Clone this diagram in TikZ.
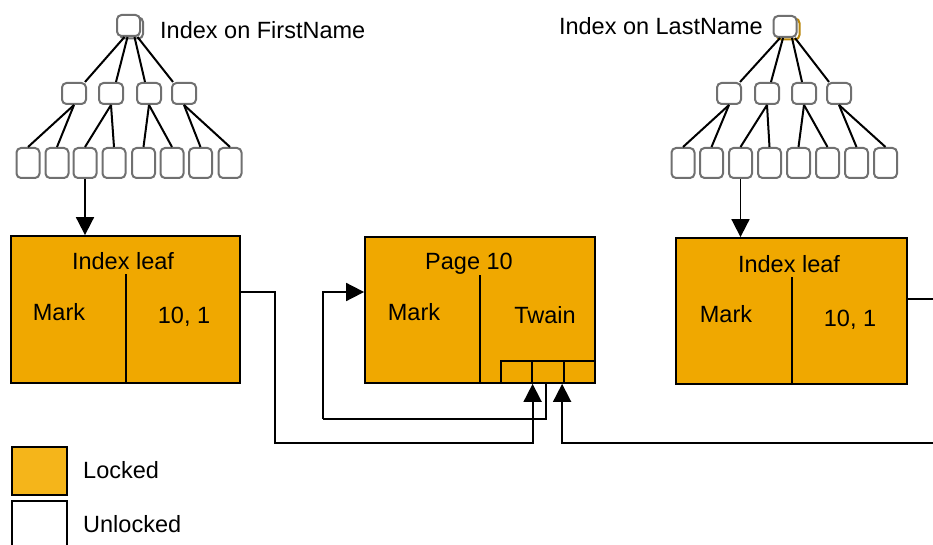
\documentclass[tikz,border=0pt]{standalone}
\usepackage{fontspec}
\setmainfont{Liberation Sans}
\usetikzlibrary{arrows.meta,calc}
\definecolor{lockfill}{HTML}{F0A800}
\definecolor{legfill}{HTML}{F5B51A}
\definecolor{treegray}{HTML}{707070}
\definecolor{shadeorange}{HTML}{B8860B}
\begin{document}
\begin{tikzpicture}[x=1pt,y=-1pt,
  tnode/.style={draw=treegray, line width=2pt, rounded corners=4.5pt, fill=white, inner sep=0pt},
  midnode/.style={tnode, minimum width=24pt, minimum height=21pt},
  botnode/.style={tnode, minimum width=23pt, minimum height=30pt},
  rootnode/.style={tnode, minimum width=23pt, minimum height=21pt},
  tline/.style={line width=2pt},
  pagebox/.style={draw, line width=1.8pt, fill=lockfill, inner sep=0pt},
  lbl/.style={font=\fontsize{23.5}{28}\selectfont, inner sep=0pt},
  conn/.style={line width=1.8pt},
  arr/.style={conn, -{Triangle[width=18pt 0, length=18pt 0]}}
]
\useasboundingbox (0,0) rectangle (933,545);
\clip (0,0) rectangle (933,545);

% ---------- left tree ----------
\node[rootnode] (L-rs) at (131.5,28) {};
\node[rootnode] (L-r) at (128.5,25.5) {};
\foreach \i/\x in {1/74,2/111,3/149,4/184}
  \node[midnode] (L-m\i) at (\x,93.5) {};
\foreach \i/\x in {1/28,2/57,3/85,4/114,5/143.5,6/172,7/200.5,8/230}
  \node[botnode] (L-b\i) at (\x,163) {};
\draw[tline] ([xshift=-4pt]L-r.south) -- ([xshift=11pt]L-m1.north);
\draw[tline] ([xshift=-1pt]L-r.south) -- ([xshift=5pt]L-m2.north);
\draw[tline] ([xshift=6pt]L-r.south) -- ([xshift=-4pt]L-m3.north);
\draw[tline] ([xshift=9pt]L-r.south) -- ([xshift=-11pt]L-m4.north);
\draw[tline] (L-m1.south) -- (L-b1.north);
\draw[tline] (L-m1.south) -- (L-b2.north);
\draw[tline] (L-m2.south) -- (L-b3.north);
\draw[tline] (L-m2.south) -- (L-b4.north);
\draw[tline] (L-m3.south) -- (L-b5.north);
\draw[tline] (L-m3.south) -- (L-b6.north);
\draw[tline] (L-m4.south) -- (L-b7.north);
\draw[tline] (L-m4.south) -- (L-b8.north);
\node[lbl, anchor=base west] (L-title) at (160,39) {Index on FirstName};

% ---------- right tree ----------
\node[rootnode, draw=shadeorange] (R-rs) at (788,29) {};
\node[rootnode] (R-r) at (785,26.5) {};
\foreach \i/\x in {1/729,2/767,3/804,4/839}
  \node[midnode] (R-m\i) at (\x,93.5) {};
\foreach \i/\x in {1/683,2/711.5,3/740.5,4/769.5,5/798.5,6/827.5,7/856.5,8/885.5}
  \node[botnode] (R-b\i) at (\x,163) {};
\draw[tline] ([xshift=-5pt]R-r.south) -- ([xshift=11pt]R-m1.north);
\draw[tline] ([xshift=-2pt]R-r.south) -- ([xshift=4pt]R-m2.north);
\draw[tline] ([xshift=7pt]R-r.south) -- ([xshift=-2pt]R-m3.north);
\draw[tline] ([xshift=10pt]R-r.south) -- ([xshift=-10pt]R-m4.north);
\draw[tline] (R-m1.south) -- (R-b1.north);
\draw[tline] (R-m1.south) -- (R-b2.north);
\draw[tline] (R-m2.south) -- (R-b3.north);
\draw[tline] (R-m2.south) -- (R-b4.north);
\draw[tline] (R-m3.south) -- (R-b5.north);
\draw[tline] (R-m3.south) -- (R-b6.north);
\draw[tline] (R-m4.south) -- (R-b7.north);
\draw[tline] (R-m4.south) -- (R-b8.north);
\node[lbl, anchor=base east] (R-title) at (763,35) {Index on LastName};

% ---------- boxes ----------
\node[pagebox, minimum width=229pt, minimum height=147pt] (leafL) at (125.5,309.5) {};
\node[pagebox, minimum width=230pt, minimum height=146pt] (page) at (480,310) {};
\node[pagebox, minimum width=231pt, minimum height=146pt] (leafR) at (791.5,311) {};

\coordinate (dL) at (126,274);
\coordinate (dP) at (480,275);
\coordinate (dR) at (792,277);
\draw[line width=1.8pt] (dL) -- (dL |- leafL.south);
\draw[line width=1.8pt] (dP) -- (dP |- page.south);
\draw[line width=1.8pt] (dR) -- (dR |- leafR.south);

\node[lbl, anchor=base] (tL1) at (123,269) {Index leaf};
\node[lbl, anchor=base] (tL2) at (59,320) {Mark};
\node[lbl, anchor=base] (tL3) at (184,323) {10, 1};
\node[lbl, anchor=base] (tP1) at (469,269) {Page 10};
\node[lbl, anchor=base] (tP2) at (414,320) {Mark};
\node[lbl, anchor=base] (tP3) at (545,323) {Twain};
\node[lbl, anchor=base] (tR1) at (789,272) {Index leaf};
\node[lbl, anchor=base] (tR2) at (726,322) {Mark};
\node[lbl, anchor=base] (tR3) at (850,326) {10, 1};

\node[pagebox, minimum width=31pt, minimum height=22pt] (c1) at (516.5,372) {};
\node[pagebox, minimum width=32pt, minimum height=22pt] (c2) at (548,372) {};
\node[pagebox, minimum width=31pt, minimum height=22pt] (c3) at (579.5,372) {};

% ---------- arrows ----------
\draw[arr] (L-b3.south) -- (L-b3.south |- leafL.north);
\draw[arr] (R-b3.south) -- (R-b3.south |- leafR.north);

\coordinate (p1) at (275,292);
\coordinate (p2) at (275,443);
\draw[arr] (leafL.east |- p1) -- (p1) -- (p2) -| ([xshift=1.5pt]c2.south west);

\coordinate (q1) at (323,419);
\coordinate (q2) at (323,292);
\draw[conn] ([xshift=-2pt]c2.south) |- (q1);
\draw[arr] (q1) -- (q2) -- (page.west |- q2);

\coordinate (r1) at (960,299);
\coordinate (r2) at (960,443);
\draw[arr] (leafR.east |- r1) -- (r1) -- (r2) -| ([xshift=-1pt]c3.south west);

% ---------- legend ----------
\node[draw, line width=2pt, fill=legfill, minimum width=55pt, minimum height=48pt, inner sep=0pt] (lock) at (39.5,471) {};
\node[draw, line width=2pt, fill=white, minimum width=55pt, minimum height=60pt, inner sep=0pt] (unlock) at (39.5,531) {};
\node[lbl, anchor=base west] (lockT) at (83,478) {Locked};
\node[lbl, anchor=base west] (unlockT) at (83,532) {Unlocked};
\end{tikzpicture}
\end{document}
